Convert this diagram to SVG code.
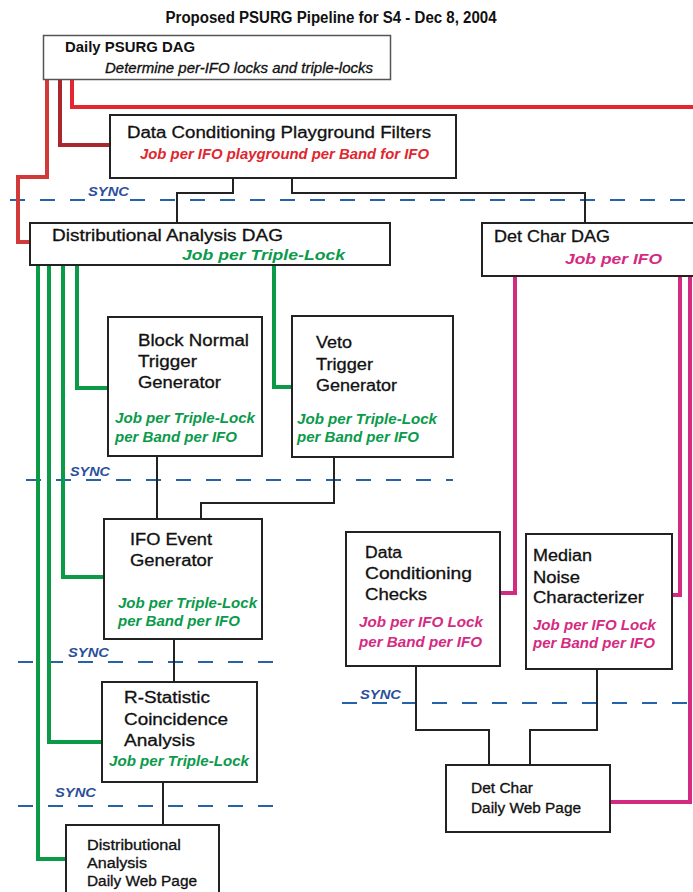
<svg xmlns="http://www.w3.org/2000/svg" width="693" height="892" viewBox="0 0 693 892">
<style>
.box{fill:#fff;stroke:#222;stroke-width:2}
.t{font-family:"Liberation Sans",Arial,sans-serif;font-size:16px;fill:#111;stroke:#111;stroke-width:0.3}
.s{font-size:14px}
.b{font-weight:bold;stroke-width:0}
.ji{font-family:"Liberation Sans",Arial,sans-serif;font-weight:bold;font-style:italic;font-size:14px}
.gt{fill:#0b9a4b}
.pt{fill:#d42b82}
.rt{fill:#e0262e}
.sync{font-family:"Liberation Sans",Arial,sans-serif;font-weight:bold;font-style:italic;font-size:13px;fill:#2a4f9c}
.dash{stroke:#2563a8;stroke-width:2;stroke-dasharray:15 15;fill:none}
.k{stroke:#222;stroke-width:2;fill:none}
.gl{stroke:#0a9a48;stroke-width:4;fill:none}
.pl{stroke:#d42b82;stroke-width:4;fill:none}
</style>
<rect width="693" height="892" fill="#fff"/>
<text class="t b" x="331" y="23" text-anchor="middle" font-size="13" textLength="331" lengthAdjust="spacingAndGlyphs">Proposed PSURG Pipeline for S4 - Dec 8, 2004</text>

<g id="sync-lines">
<path class="dash" d="M10 200H693"/>
<path class="dash" d="M26 480H453"/>
<path class="dash" d="M18 662H273"/>
<path class="dash" d="M18 806H276"/>
<path class="dash" d="M342 703H693"/>
<text class="sync" x="88" y="196" textLength="41" lengthAdjust="spacingAndGlyphs">SYNC</text>
<text class="sync" x="70" y="476" textLength="40" lengthAdjust="spacingAndGlyphs">SYNC</text>
<text class="sync" x="68" y="657" textLength="41" lengthAdjust="spacingAndGlyphs">SYNC</text>
<text class="sync" x="55" y="797" textLength="41" lengthAdjust="spacingAndGlyphs">SYNC</text>
<text class="sync" x="360" y="699" textLength="41" lengthAdjust="spacingAndGlyphs">SYNC</text>
</g>

<g id="connectors">
<path d="M47 79V177H18V242H30" fill="none" stroke="#d23a3a" stroke-width="4"/>
<path d="M60 79V145H110" fill="none" stroke="#a9272d" stroke-width="4"/>
<path d="M72 79V107H693" fill="none" stroke="#e32631" stroke-width="4"/>
<path class="k" d="M233 177V193H177V223"/>
<path class="k" d="M292 177V193H585V223"/>
<path class="gl" d="M38 265V859H66"/>
<path class="gl" d="M49 265V742H102"/>
<path class="gl" d="M63 265V577H104"/>
<path class="gl" d="M77 265V388H108"/>
<path class="gl" d="M274 265V387H292"/>
<path class="k" d="M157 456V519"/>
<path class="k" d="M334 457V503H201V519"/>
<path class="k" d="M174 639V682"/>
<path class="k" d="M163 782V825"/>
<path class="pl" d="M515 276V593H500"/>
<path class="pl" d="M680 276V595H672"/>
<path class="pl" d="M690 276V802H610"/>
<path class="k" d="M416 666V730H489V765"/>
<path class="k" d="M597 669V730H530V765"/>
</g>

<g id="daily-psurg-dag">
<rect x="43.5" y="35.5" width="347" height="44" fill="#fff" stroke="#555" stroke-width="1.5"/>
<text class="t b s" x="65" y="52" textLength="130" lengthAdjust="spacingAndGlyphs">Daily PSURG DAG</text>
<text class="t s" x="105" y="73" font-style="italic" textLength="268" lengthAdjust="spacingAndGlyphs">Determine per-IFO locks and triple-locks</text>
</g>

<g id="dc-playground-filters">
<rect class="box" x="110" y="115" width="346" height="63"/>
<text class="t" x="127" y="138" font-size="17" textLength="304" lengthAdjust="spacingAndGlyphs">Data Conditioning Playground Filters</text>
<text class="ji rt" x="140" y="159" textLength="289" lengthAdjust="spacingAndGlyphs">Job per IFO playground per Band for IFO</text>
</g>

<g id="distributional-analysis-dag">
<rect class="box" x="30" y="223" width="360" height="42"/>
<text class="t" x="52" y="241" font-size="17" textLength="231" lengthAdjust="spacingAndGlyphs">Distributional Analysis DAG</text>
<text class="ji gt" x="182" y="260" font-size="15" textLength="163" lengthAdjust="spacingAndGlyphs">Job per Triple-Lock</text>
</g>

<g id="det-char-dag">
<rect class="box" x="482" y="223" width="220" height="53"/>
<text class="t" x="494" y="242" font-size="17" textLength="116" lengthAdjust="spacingAndGlyphs">Det Char DAG</text>
<text class="ji pt" x="565" y="264" font-size="15" textLength="97" lengthAdjust="spacingAndGlyphs">Job per IFO</text>
</g>

<g id="block-normal">
<rect class="box" x="108" y="317" width="154" height="139"/>
<text class="t" x="138" y="346" textLength="111" lengthAdjust="spacingAndGlyphs">Block Normal</text>
<text class="t" x="138" y="367" textLength="59" lengthAdjust="spacingAndGlyphs">Trigger</text>
<text class="t" x="138" y="388" textLength="83" lengthAdjust="spacingAndGlyphs">Generator</text>
<text class="ji gt" x="115" y="423" textLength="140" lengthAdjust="spacingAndGlyphs">Job per Triple-Lock</text>
<text class="ji gt" x="115" y="442" textLength="122" lengthAdjust="spacingAndGlyphs">per Band per IFO</text>
</g>

<g id="veto">
<rect class="box" x="292" y="316" width="161" height="141"/>
<text class="t" x="316" y="348" textLength="36" lengthAdjust="spacingAndGlyphs">Veto</text>
<text class="t" x="316" y="370" textLength="57" lengthAdjust="spacingAndGlyphs">Trigger</text>
<text class="t" x="316" y="391" textLength="81" lengthAdjust="spacingAndGlyphs">Generator</text>
<text class="ji gt" x="297" y="424" textLength="140" lengthAdjust="spacingAndGlyphs">Job per Triple-Lock</text>
<text class="ji gt" x="297" y="442" textLength="122" lengthAdjust="spacingAndGlyphs">per Band per IFO</text>
</g>

<g id="ifo-event">
<rect class="box" x="104" y="519" width="158" height="120"/>
<text class="t" x="130" y="545" textLength="82" lengthAdjust="spacingAndGlyphs">IFO Event</text>
<text class="t" x="130" y="566" textLength="83" lengthAdjust="spacingAndGlyphs">Generator</text>
<text class="ji gt" x="118" y="608" textLength="139" lengthAdjust="spacingAndGlyphs">Job per Triple-Lock</text>
<text class="ji gt" x="118" y="626" textLength="122" lengthAdjust="spacingAndGlyphs">per Band per IFO</text>
</g>

<g id="r-statistic">
<rect class="box" x="102" y="682" width="155" height="100"/>
<text class="t" x="124" y="703" textLength="86" lengthAdjust="spacingAndGlyphs">R-Statistic</text>
<text class="t" x="124" y="725" textLength="104" lengthAdjust="spacingAndGlyphs">Coincidence</text>
<text class="t" x="124" y="746" textLength="71" lengthAdjust="spacingAndGlyphs">Analysis</text>
<text class="ji gt" x="109" y="766" textLength="140" lengthAdjust="spacingAndGlyphs">Job per Triple-Lock</text>
</g>

<g id="dist-web-page">
<rect class="box" x="66" y="825" width="153" height="80"/>
<text class="t s" x="87" y="850" textLength="94" lengthAdjust="spacingAndGlyphs">Distributional</text>
<text class="t s" x="87" y="868" textLength="60" lengthAdjust="spacingAndGlyphs">Analysis</text>
<text class="t s" x="87" y="886" textLength="110" lengthAdjust="spacingAndGlyphs">Daily Web Page</text>
</g>

<g id="dc-checks">
<rect class="box" x="346" y="532" width="154" height="134"/>
<text class="t" x="365" y="558" textLength="37" lengthAdjust="spacingAndGlyphs">Data</text>
<text class="t" x="365" y="579" textLength="107" lengthAdjust="spacingAndGlyphs">Conditioning</text>
<text class="t" x="365" y="600" textLength="62" lengthAdjust="spacingAndGlyphs">Checks</text>
<text class="ji pt" x="359" y="627" textLength="124" lengthAdjust="spacingAndGlyphs">Job per IFO Lock</text>
<text class="ji pt" x="359" y="647" textLength="123" lengthAdjust="spacingAndGlyphs">per Band per IFO</text>
</g>

<g id="median-noise">
<rect class="box" x="526" y="534" width="146" height="135"/>
<text class="t" x="533" y="561" textLength="59" lengthAdjust="spacingAndGlyphs">Median</text>
<text class="t" x="533" y="583" textLength="47" lengthAdjust="spacingAndGlyphs">Noise</text>
<text class="t" x="533" y="603" textLength="111" lengthAdjust="spacingAndGlyphs">Characterizer</text>
<text class="ji pt" x="533" y="630" textLength="123" lengthAdjust="spacingAndGlyphs">Job per IFO Lock</text>
<text class="ji pt" x="533" y="648" textLength="122" lengthAdjust="spacingAndGlyphs">per Band per IFO</text>
</g>

<g id="det-char-web-page">
<rect class="box" x="446" y="765" width="164" height="67"/>
<text class="t s" x="471" y="793" textLength="62" lengthAdjust="spacingAndGlyphs">Det Char</text>
<text class="t s" x="471" y="813" textLength="110" lengthAdjust="spacingAndGlyphs">Daily Web Page</text>
</g>
</svg>
